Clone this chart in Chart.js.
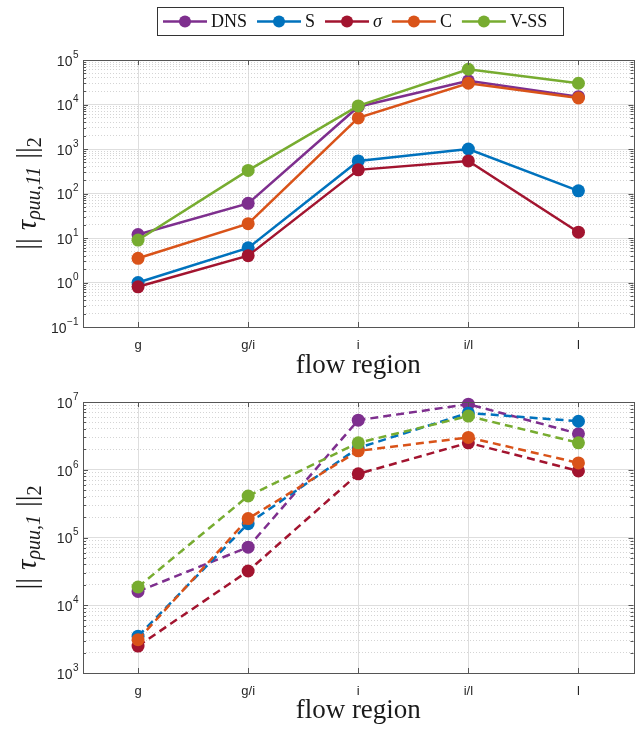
<!doctype html>
<html>
<head>
<meta charset="utf-8">
<title>flow region</title>
<script src="https://cdn.jsdelivr.net/npm/chart.js@4.4.0/dist/chart.umd.min.js"></script>
<style>
body{margin:0;background:#fff}
canvas{display:block}
</style>
</head>
<body>
<canvas id="topChart" width="640" height="380"></canvas>
<canvas id="bottomChart" width="640" height="349"></canvas>
<script>
// categories + series
var regions = ['g', 'g/i', 'i', 'i/l', 'l'];
var names = ['DNS', 'S', '\u03c3', 'C', 'V-SS'];
var colors = ['#7E2F8E', '#0072BD', '#A2142F', '#D95319', '#77AC30'];

// || tau_{rho uu,11} ||_2
var dns11 = [12, 60, 8900, 34000, 15000];
var s11 = [1.0, 6, 540, 1000, 115];
var sig11 = [0.8, 4, 340, 540, 13.5];
var c11 = [3.5, 21, 5000, 30000, 14000];
var vss11 = [9, 330, 9300, 62000, 30000];

// || tau_{rho uu,1} ||_2
var dns1 = [16000, 72000, 5.4e6, 9.3e6, 3.4e6];
var s1 = [3500, 1.6e5, 2.1e6, 6.9e6, 5.2e6];
var sig1 = [2500, 32000, 8.7e5, 2.5e6, 9.6e5];
var c1 = [3100, 1.9e5, 1.9e6, 3.0e6, 1.26e6];
var vss1 = [18600, 4.1e5, 2.5e6, 6.2e6, 2.5e6];

// decade exponents for the y tick labels
var topExps = [-1, 0, 1, 2, 3, 4, 5];
var bottomExps = [3, 4, 5, 6, 7];

var serif = "'Liberation Serif', 'DejaVu Serif', serif";
var sans = "'Liberation Sans', Arial, sans-serif";

function minorTicks(exps) {
  var t = [];
  for (var i = 0; i < exps.length - 1; i++) {
    for (var k = 2; k <= 9; k++) t.push({value: k * Math.pow(10, exps[i])});
  }
  return t;
}

// frame, inside ticks, y tick labels, axis titles, legend
var decorations = {
  id: 'decorations',
  afterDraw: function(chart, args, o) {
    var ctx = chart.ctx, a = chart.chartArea, ys = chart.scales.y, xs = chart.scales.x;
    var exps = o.exps;
    ctx.save();
    ctx.strokeStyle = '#555';
    ctx.lineWidth = 1;
    ctx.beginPath();
    for (var i = 0; i < exps.length; i++) {
      for (var k = 1; k <= 9; k++) {
        if (i == exps.length - 1 && k > 1) break;
        var py = Math.round(ys.getPixelForValue(k * Math.pow(10, exps[i]))) + 0.5;
        var len = k == 1 ? 5 : 3;
        ctx.moveTo(a.left, py); ctx.lineTo(a.left + len, py);
        ctx.moveTo(a.right, py); ctx.lineTo(a.right - len, py);
      }
    }
    for (var j = 0; j < regions.length; j++) {
      var px = Math.round(xs.getPixelForValue(j)) + 0.5;
      ctx.moveTo(px, a.bottom); ctx.lineTo(px, a.bottom - 5);
      ctx.moveTo(px, a.top); ctx.lineTo(px, a.top + 5);
    }
    ctx.stroke();
    ctx.strokeRect(Math.round(a.left) + 0.5, Math.round(a.top) + 0.5,
      Math.round(a.right - a.left), Math.round(a.bottom - a.top));

    // y tick labels 10^n
    ctx.fillStyle = '#262626';
    ctx.textBaseline = 'middle';
    ctx.textAlign = 'left';
    exps.forEach(function(e) {
      var py = ys.getPixelForValue(Math.pow(10, e));
      var ex = String(e).replace('-', '\u2212');
      ctx.font = '10px ' + sans;
      var we = ctx.measureText(ex).width;
      ctx.font = '14px ' + sans;
      var wb = ctx.measureText('10').width;
      var x0 = a.left - 5 - we - wb;
      ctx.fillText('10', x0, py + 2);
      ctx.font = '10px ' + sans;
      ctx.fillText(ex, x0 + wb + 0.5, py - 5);
    });

    // x title
    ctx.font = '27px ' + serif;
    ctx.textAlign = 'center';
    ctx.textBaseline = 'alphabetic';
    ctx.fillStyle = '#1a1a1a';
    ctx.fillText('flow region', (a.left + a.right) / 2, o.xTitleY);

    // y title, rotated, with subscripts
    var segs = o.yTitle;
    ctx.textAlign = 'left';
    ctx.textBaseline = 'middle';
    var total = 0;
    segs.forEach(function(s) {
      ctx.font = (s.it ? 'italic ' : '') + s.size + 'px ' + serif;
      s.w = s.t ? ctx.measureText(s.t).width : 0;
      total += s.w + (s.gap || 0);
    });
    ctx.translate(28, (a.top + a.bottom) / 2);
    ctx.rotate(-Math.PI / 2);
    var cx = -total / 2;
    segs.forEach(function(s) {
      ctx.font = (s.it ? 'italic ' : '') + s.size + 'px ' + serif;
      if (s.t) ctx.fillText(s.t, cx, s.dy || 0);
      cx += s.w + (s.gap || 0);
    });
    ctx.restore();

    if (o.legend) {
      ctx.save();
      ctx.fillStyle = '#fff';
      ctx.strokeStyle = '#333';
      ctx.lineWidth = 1;
      ctx.fillRect(157.5, 7.5, 406, 28);
      ctx.strokeRect(157.5, 7.5, 406, 28);
      ctx.font = '18px ' + serif;
      ctx.textBaseline = 'middle';
      var lx = 163, ly = 21.5;
      names.forEach(function(n, i) {
        ctx.strokeStyle = colors[i];
        ctx.lineWidth = 2.5;
        ctx.beginPath();
        ctx.moveTo(lx, ly); ctx.lineTo(lx + 44, ly);
        ctx.stroke();
        ctx.fillStyle = colors[i];
        ctx.beginPath();
        ctx.arc(lx + 22, ly, 6, 0, Math.PI * 2);
        ctx.fill();
        ctx.fillStyle = '#111';
        ctx.font = (n == '\u03c3' ? 'italic ' : '') + '18px ' + serif;
        ctx.fillText(n, lx + 48, ly + 1);
        lx += 48 + ctx.measureText(n).width + 10;
      });
      ctx.restore();
    }
  }
};

function makeChart(id, series, yMin, yMax, exps, dashed, padTop, xH, xTitleY, yTitle, legend) {
  var datasets = series.map(function(d, i) {
    return {
      label: names[i],
      data: d,
      borderColor: colors[i],
      backgroundColor: colors[i],
      pointBackgroundColor: colors[i],
      pointBorderWidth: 0,
      pointRadius: 6.5,
      pointHoverRadius: 6.5,
      borderWidth: 2.5,
      borderDash: dashed ? [8, 5] : [],
      tension: 0,
      fill: false,
      clip: false,
      order: series.length - i
    };
  });
  return new Chart(document.getElementById(id), {
    type: 'line',
    data: {labels: regions, datasets: datasets},
    options: {
      responsive: false,
      animation: false,
      events: [],
      layout: {padding: {top: padTop, right: 5, left: 0, bottom: 0}},
      plugins: {
        legend: {display: false},
        tooltip: {enabled: false},
        decorations: {exps: exps, xTitleY: xTitleY, yTitle: yTitle, legend: legend}
      },
      scales: {
        x: {
          type: 'category',
          offset: true,
          grid: {offset: false, color: '#dedede', drawTicks: false},
          border: {display: false},
          ticks: {font: {family: sans, size: 13}, color: '#262626', padding: 11, maxRotation: 0},
          afterFit: function(s) { s.height = xH; }
        },
        y: {
          type: 'logarithmic',
          position: 'left',
          min: yMin,
          max: yMax,
          afterBuildTicks: function(s) {
            s.ticks = exps.map(function(e) { return {value: Math.pow(10, e)}; });
          },
          afterFit: function(s) { s.width = 83; },
          ticks: {display: false},
          grid: {color: '#dedede', drawTicks: false},
          border: {display: false}
        },
        y2: {
          type: 'logarithmic',
          position: 'right',
          min: yMin,
          max: yMax,
          afterBuildTicks: function(s) { s.ticks = minorTicks(exps); },
          afterFit: function(s) { s.width = 0; },
          ticks: {display: false},
          grid: {color: '#d4d4d4', drawTicks: false},
          border: {display: false, dash: [1, 2]}
        }
      }
    },
    plugins: [decorations]
  });
}

var title11 = [
  {t: '||', size: 29}, {gap: 8},
  {t: '\u03c4', size: 29, it: true},
  {t: '\u03c1uu,11', size: 20, it: true, dy: 7}, {gap: 8},
  {t: '||', size: 29},
  {t: '2', size: 20, dy: 8}
];
var title1 = [
  {t: '||', size: 29}, {gap: 8},
  {t: '\u03c4', size: 29, it: true},
  {t: '\u03c1uu,1', size: 20, it: true, dy: 7}, {gap: 8},
  {t: '||', size: 29},
  {t: '2', size: 20, dy: 8}
];

makeChart('topChart', [dns11, s11, sig11, c11, vss11], 0.1, 1e5, topExps, false, 60, 53, 373, title11, true);
makeChart('bottomChart', [dns1, s1, sig1, c1, vss1], 1e3, 1e7, bottomExps, true, 22, 56, 338, title1, false);
</script>
</body>
</html>
